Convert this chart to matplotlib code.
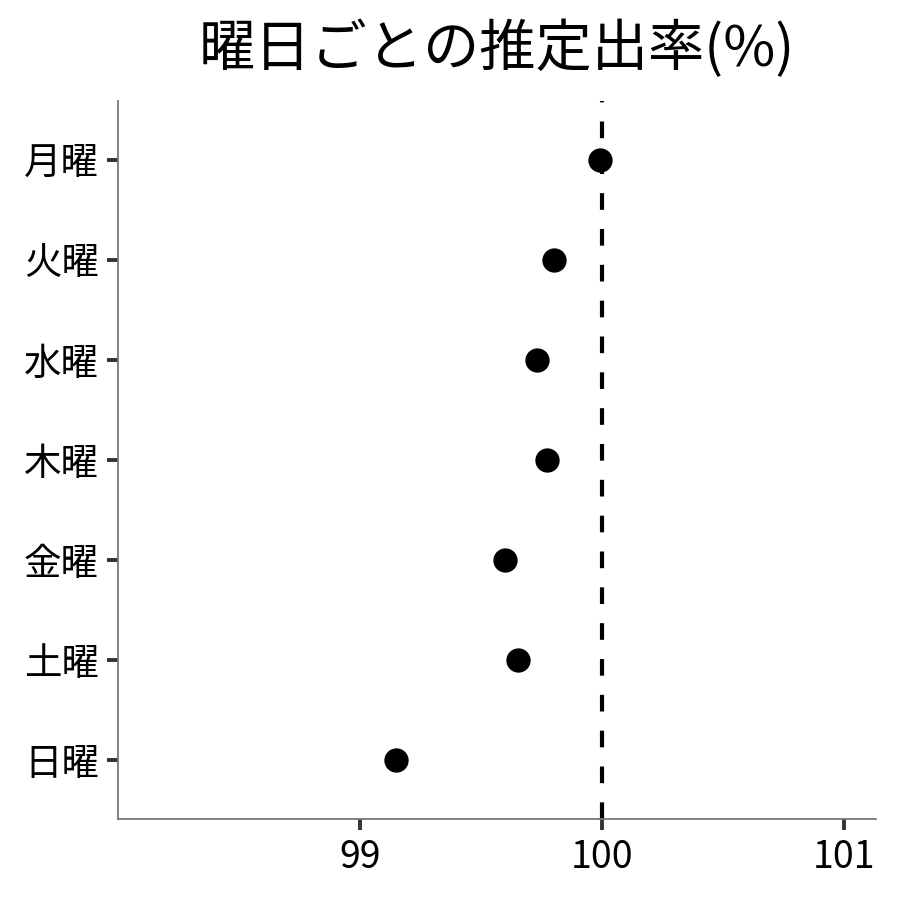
import matplotlib
matplotlib.use("Agg")
import matplotlib.pyplot as plt

plt.rcParams['font.family'] = ['Noto Sans CJK JP', 'DejaVu Sans']

days = ['月曜', '火曜', '水曜', '木曜', '金曜', '土曜', '日曜']
rates = [99.99, 99.80, 99.73, 99.77, 99.60, 99.65, 99.15]
ref_value = 100
x_ticks = [99, 100, 101]
title = '曜日ごとの推定出率(%)'


def plot_graph():
    fig = plt.figure(figsize=(9, 9), dpi=100)
    ax = fig.add_axes([0.1311, 0.09, 0.8422, 0.7978])

    # reverse so that Monday is at the top
    ypos = list(range(len(days), 0, -1))

    ax.axvline(ref_value, color='black', linewidth=3.0,
               linestyle=(0, (4.0, 4.6)), zorder=1)
    ax.plot(rates, ypos, linestyle='none', marker='o', markersize=17.5,
            color='black', markeredgewidth=0, zorder=2)

    ax.set_xlim(98.0, 101.13)
    ax.set_ylim(0.41, len(days) + 0.59)
    ax.set_xticks(x_ticks)
    ax.set_xticklabels([str(v) for v in x_ticks])
    ax.set_yticks(ypos)
    ax.set_yticklabels(days)

    for side in ['top', 'right']:
        ax.spines[side].set_visible(False)
    for side in ['left', 'bottom']:
        ax.spines[side].set_color('#777777')
        ax.spines[side].set_linewidth(1.3)

    ax.tick_params(axis='both', length=7.7, width=2.8, color='#333333',
                   labelsize=27, labelcolor='black', pad=6)

    ax.set_title(title, fontsize=40.5, pad=25)
    fig.savefig('out.png', dpi=100)


if __name__ == '__main__':
    plot_graph()
